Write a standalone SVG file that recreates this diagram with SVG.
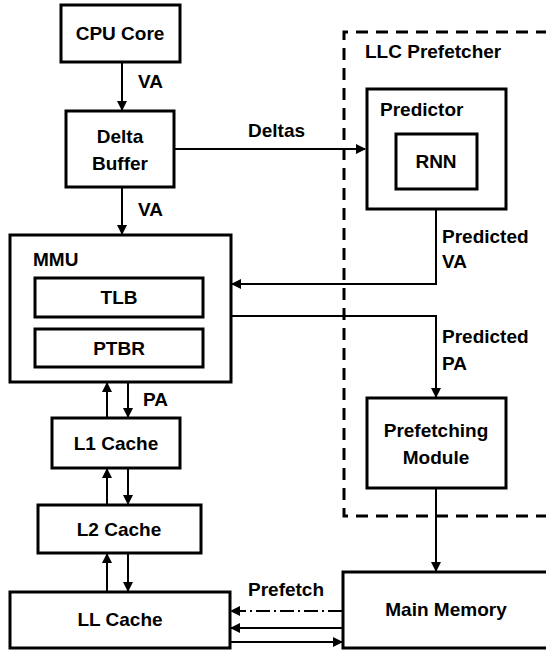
<svg xmlns="http://www.w3.org/2000/svg" width="546" height="650" viewBox="0 0 546 650">
<defs>
<marker id="ah" viewBox="0 0 10 10" refX="9" refY="5" markerWidth="10" markerHeight="10" markerUnits="userSpaceOnUse" orient="auto">
<path d="M0,0 L10,5 L0,10 Z" fill="#000"/>
</marker>
</defs>
<style>
.box{fill:#fff;stroke:#000;stroke-width:3}
.t{font-family:"Liberation Sans",Arial,sans-serif;font-weight:bold;font-size:19px;fill:#000}
.c{text-anchor:middle}
.ln{fill:none;stroke:#000;stroke-width:2}
.dash{fill:none;stroke:#000;stroke-width:3;stroke-dasharray:12,8}
</style>
<rect width="546" height="650" fill="#fff"/>
<g id="llc-prefetcher">
<path class="dash" d="M548,32 H344 V516 H548"/>
<text class="t" x="365" y="58">LLC Prefetcher</text>
</g>
<g id="connectors">
<path class="ln" d="M122,62 V110" marker-end="url(#ah)"/>
<path class="ln" d="M122,187 V234" marker-end="url(#ah)"/>
<path class="ln" d="M174,149 H365" marker-end="url(#ah)"/>
<path class="ln" d="M436,209 V284 H232" marker-end="url(#ah)"/>
<path class="ln" d="M231,316 H436 V397" marker-end="url(#ah)"/>
<path class="ln" d="M436,488 V571" marker-end="url(#ah)"/>
<path class="ln" d="M107,418 V383" marker-end="url(#ah)"/>
<path class="ln" d="M128,383 V417" marker-end="url(#ah)"/>
<path class="ln" d="M107,505 V469" marker-end="url(#ah)"/>
<path class="ln" d="M128,469 V504" marker-end="url(#ah)"/>
<path class="ln" d="M107,592 V554" marker-end="url(#ah)"/>
<path class="ln" d="M128,554 V591" marker-end="url(#ah)"/>
<path class="ln" d="M342,611 H231" stroke-dasharray="14,4,2,4" marker-end="url(#ah)"/>
<path class="ln" d="M342,628 H231" marker-end="url(#ah)"/>
<path class="ln" d="M231,642 H342" marker-end="url(#ah)"/>
<text class="t" x="138" y="88">VA</text>
<text class="t" x="138" y="216">VA</text>
<text class="t" x="248" y="137">Deltas</text>
<text class="t" x="442" y="243">Predicted</text>
<text class="t" x="442" y="268">VA</text>
<text class="t" x="442" y="343">Predicted</text>
<text class="t" x="442" y="370">PA</text>
<text class="t" x="143" y="406">PA</text>
<text class="t" x="248" y="596">Prefetch</text>
</g>
<g id="cpu-core">
<rect class="box" x="61" y="5" width="119" height="57"/>
<text class="t c" x="120" y="40">CPU Core</text>
</g>
<g id="delta-buffer">
<rect class="box" x="66" y="111" width="108" height="76"/>
<text class="t c" x="120" y="143">Delta</text>
<text class="t c" x="120" y="170">Buffer</text>
</g>
<g id="mmu">
<rect class="box" x="10" y="235" width="221" height="147"/>
<text class="t" x="33" y="266">MMU</text>
</g>
<g id="tlb">
<rect class="box" x="35" y="278" width="168" height="39"/>
<text class="t c" x="119" y="304">TLB</text>
</g>
<g id="ptbr">
<rect class="box" x="35" y="329" width="168" height="38"/>
<text class="t c" x="119" y="355">PTBR</text>
</g>
<g id="predictor">
<rect class="box" x="367" y="89" width="139" height="120"/>
<text class="t" x="380" y="116">Predictor</text>
</g>
<g id="rnn">
<rect class="box" x="396" y="134" width="81" height="55"/>
<text class="t c" x="436" y="168">RNN</text>
</g>
<g id="prefetching-module">
<rect class="box" x="367" y="398" width="139" height="90"/>
<text class="t c" x="436" y="437">Prefetching</text>
<text class="t c" x="436" y="464">Module</text>
</g>
<g id="l1-cache">
<rect class="box" x="52" y="418" width="128" height="50"/>
<text class="t c" x="116" y="450">L1 Cache</text>
</g>
<g id="l2-cache">
<rect class="box" x="38" y="505" width="163" height="48"/>
<text class="t c" x="119" y="536">L2 Cache</text>
</g>
<g id="ll-cache">
<rect class="box" x="10" y="592" width="220" height="56"/>
<text class="t c" x="120" y="626">LL Cache</text>
</g>
<g id="main-memory">
<rect class="box" x="343" y="572" width="210" height="76"/>
<text class="t c" x="446" y="616">Main Memory</text>
</g>
</svg>
